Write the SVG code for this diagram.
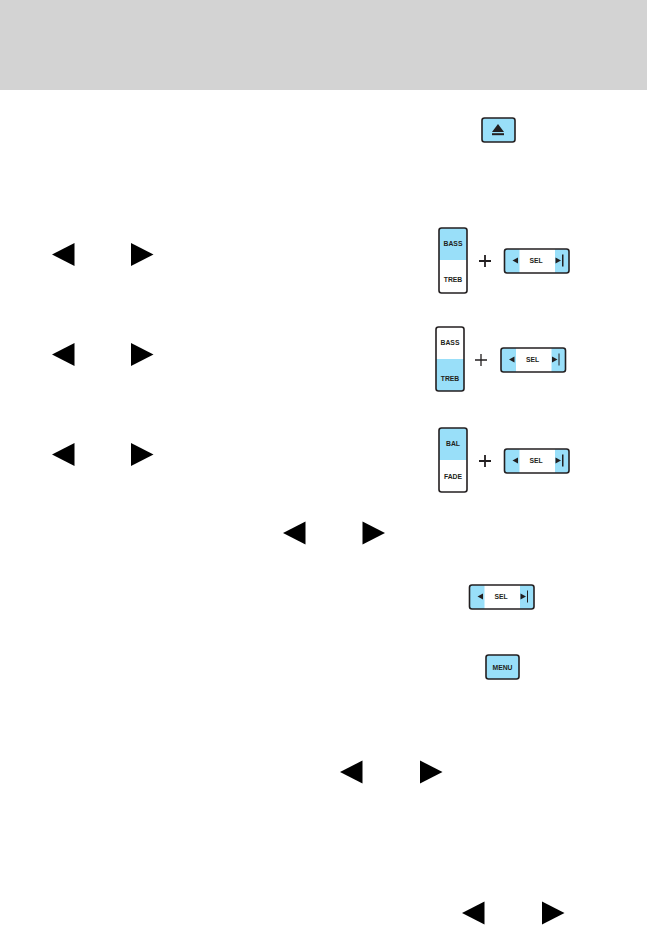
<svg xmlns="http://www.w3.org/2000/svg" width="647" height="925" viewBox="0 0 647 925">
<style>
.bg{fill:#fff}
.blue{fill:#99dff9}
.frame{fill:none;stroke:#231f20;stroke-width:1.6}
.ink{fill:#231f20}
.tri{fill:#000}
.plus{stroke:#231f20;stroke-width:1.8;fill:none}
.lb{font-family:"Liberation Sans",Arial,sans-serif;font-weight:700;font-size:6.8px;fill:#231f20;text-anchor:middle}
</style>
<defs>
<polygon id="tl" class="tri" points="0,0 22.500,-11.500 22.500,11.500"/>
<polygon id="tr" class="tri" points="22.500,0 0,-11.500 0,11.500"/>
</defs>
<rect width="647" height="925" class="bg"/>
<rect id="header" width="647" height="90" fill="#d3d3d3"/>

<g id="eject-button">
<rect x="482" y="118" width="33" height="24" rx="2.500" class="blue"/>
<rect x="482" y="118" width="33" height="24" rx="2.500" class="frame"/>
<polygon class="ink" points="498,124 504,132 492,132"/>
<rect x="492" y="133.200" width="12" height="2" class="ink"/>
</g>

<g id="bass-treb-1" transform="translate(439 228)">
<rect x="0" y="0" width="28" height="32" class="blue"/>
<rect x="0" y="0" width="28" height="65" rx="2.500" class="frame"/>
<text x="14" y="18" class="lb">BASS</text>
<text x="14" y="54" class="lb">TREB</text>
</g>
<g id="plus-1"><path class="plus" d="M479 261H491M485 255V267"/></g>
<g id="sel-1" transform="translate(504.500 249)">
<rect x="0" y="0" width="15" height="24" class="blue"/><rect x="50.500" y="0" width="14" height="24" class="blue"/>
<rect x="0" y="0" width="64.500" height="24" rx="2.500" class="frame"/>
<polygon class="ink" points="8,11.500 13.500,8.500 13.500,14.500"/>
<polygon class="ink" points="56.500,11.500 51,8.500 51,14.500"/>
<rect x="57.500" y="5.500" width="1.500" height="12" class="ink"/>
<text x="31.500" y="14" class="lb">SEL</text>
</g>

<g id="bass-treb-2" transform="translate(436 327)">
<rect x="0" y="32" width="28" height="32" class="blue"/>
<rect x="0" y="0" width="28" height="64" rx="2.500" class="frame"/>
<text x="14" y="18" class="lb">BASS</text>
<text x="14" y="54" class="lb">TREB</text>
</g>
<g id="plus-2"><path class="plus" style="stroke-width:1.300" d="M475 360H487M481 354V366"/></g>
<g id="sel-2" transform="translate(501 348)">
<rect x="0" y="0" width="15" height="24" class="blue"/><rect x="50.500" y="0" width="14" height="24" class="blue"/>
<rect x="0" y="0" width="64.500" height="24" rx="2.500" class="frame"/>
<polygon class="ink" points="8,11.500 13.500,8.500 13.500,14.500"/>
<polygon class="ink" points="56.500,11.500 51,8.500 51,14.500"/>
<rect x="57.500" y="5.500" width="1" height="12" class="ink"/>
<text x="31.500" y="14" class="lb">SEL</text>
</g>

<g id="bal-fade" transform="translate(439 428)">
<rect x="0" y="0" width="28" height="32" class="blue"/>
<rect x="0" y="0" width="28" height="64" rx="2.500" class="frame"/>
<text x="14" y="18" class="lb">BAL</text>
<text x="14" y="51" class="lb">FADE</text>
</g>
<g id="plus-3"><path class="plus" d="M479 461H491M485 455V467"/></g>
<g id="sel-3" transform="translate(504.500 449)">
<rect x="0" y="0" width="15" height="24" class="blue"/><rect x="50.500" y="0" width="14" height="24" class="blue"/>
<rect x="0" y="0" width="64.500" height="24" rx="2.500" class="frame"/>
<polygon class="ink" points="8,11.500 13.500,8.500 13.500,14.500"/>
<polygon class="ink" points="56.500,11.500 51,8.500 51,14.500"/>
<rect x="57.500" y="5.500" width="1.500" height="12" class="ink"/>
<text x="31.500" y="14" class="lb">SEL</text>
</g>

<g id="sel-4" transform="translate(469.500 585)">
<rect x="0" y="0" width="15" height="24" class="blue"/><rect x="50.500" y="0" width="14" height="24" class="blue"/>
<rect x="0" y="0" width="64.500" height="24" rx="2.500" class="frame"/>
<polygon class="ink" points="8,11.500 13.500,8.500 13.500,14.500"/>
<polygon class="ink" points="56.500,11.500 51,8.500 51,14.500"/>
<rect x="57.500" y="5.500" width="1" height="12" class="ink"/>
<text x="31.500" y="14" class="lb">SEL</text>
</g>

<g id="menu-button">
<rect x="486" y="655" width="33" height="24" rx="2.500" class="blue"/>
<rect x="486" y="655" width="33" height="24" rx="2.500" class="frame"/>
<text x="502.500" y="669.500" class="lb">MENU</text>
</g>

<g id="arrows">
<use href="#tl" x="52" y="254.500"/><use href="#tr" x="131" y="254.500"/>
<use href="#tl" x="52" y="354.500"/><use href="#tr" x="131" y="354.500"/>
<use href="#tl" x="52" y="454.500"/><use href="#tr" x="131" y="454.500"/>
<use href="#tl" x="283" y="533"/><use href="#tr" x="362.500" y="533"/>
<use href="#tl" x="340" y="772"/><use href="#tr" x="420" y="772"/>
<use href="#tl" x="462" y="913"/><use href="#tr" x="542" y="913"/>
</g>
</svg>
